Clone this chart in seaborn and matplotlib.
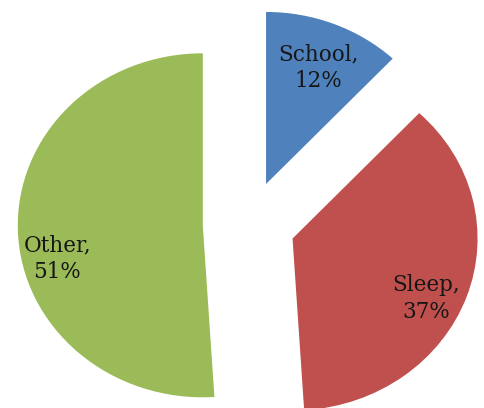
import matplotlib
matplotlib.use("Agg")
import matplotlib.pyplot as plt
import seaborn as sns
import numpy as np

# data
activities = ["School", "Sleep", "Other"]
shares = [12, 37, 51]
colors = ["#4F81BD", "#C0504D", "#9BBB59"]

sns.set_theme(style="white")
plt.rcParams["font.family"] = ["DejaVu Serif"]

fig = plt.figure(figsize=(4.84, 4.08), dpi=100)
ax = fig.add_axes([0, 0, 1, 1])
wedges, _ = ax.pie(shares, colors=colors, startangle=90, counterclock=False,
                   explode=[0.25] * 3, wedgeprops=dict(linewidth=0))
# the original image is a bit stretched horizontally
ax.set_aspect("auto")
ax.set_xlim(-1.346, 1.270)
ax.set_ylim(-1.070, 1.302)

# label placement inside each slice (radius, angle tweak)
label_r = [0.73, 0.80, 0.81]
label_shift = [-1, -6, 12]
for w, name, pct, r, sh in zip(wedges, activities, shares, label_r, label_shift):
    mid = np.deg2rad((w.theta1 + w.theta2) / 2 + sh)
    cx, cy = w.center
    ax.text(cx + r * np.cos(mid), cy + r * np.sin(mid), f"{name},\n{pct}%",
            ha="center", va="center", fontsize=15.5, color="#161616",
            linespacing=1.25)

fig.savefig("out.png", dpi=100)
